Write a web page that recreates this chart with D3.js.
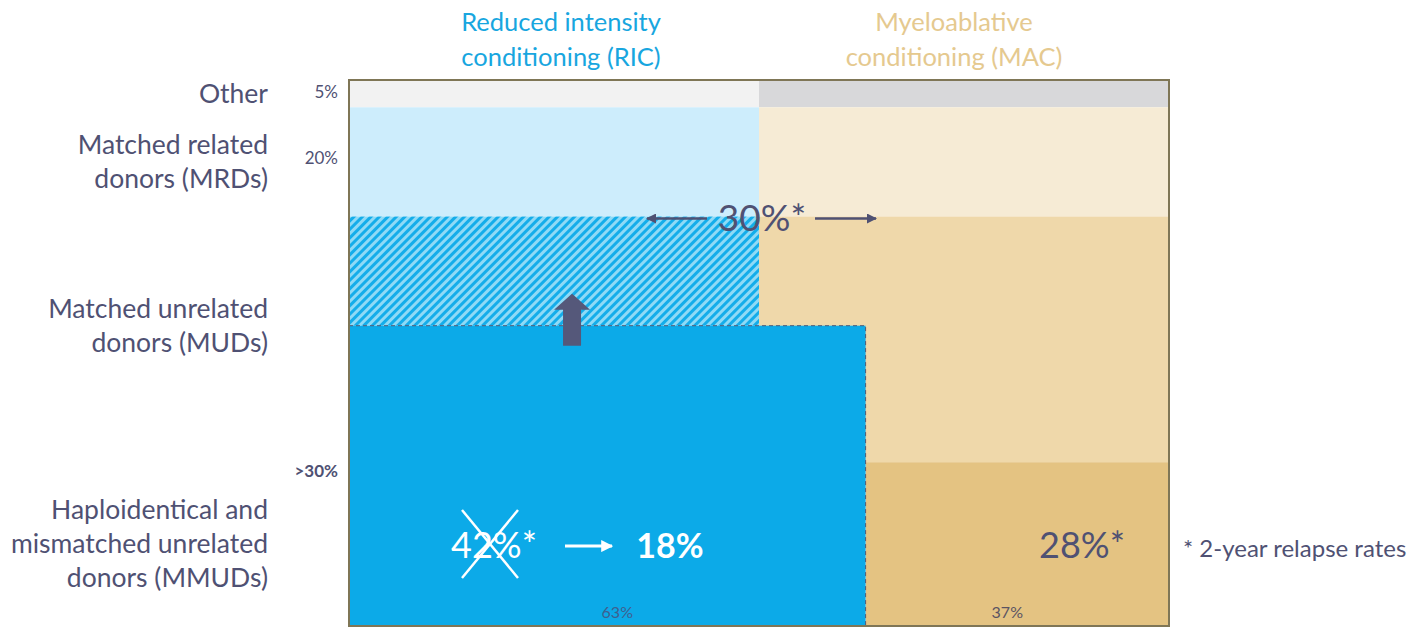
<!DOCTYPE html>
<html>
<head>
<meta charset="utf-8">
<script src="https://cdn.jsdelivr.net/npm/d3@7"></script>
<style>
  body { margin: 0; background: #fff; }
  svg { display: block; font-family: Lato, "Open Sans", sans-serif; }
</style>
</head>
<body>
<svg id="chart" width="1428" height="628"></svg>
<script>
// rows, top to bottom, with share of transplants (%)
const rowKeys = ["Other", "MRD", "MUD", "MMUD"];
const rowLabels = [
  ["Other"],
  ["Matched related", "donors (MRDs)"],
  ["Matched unrelated", "donors (MUDs)"],
  ["Haploidentical and", "mismatched unrelated", "donors (MMUDs)"]
];
const rowShares = [5, 20, 45, 30];
const rowShareLabels = ["5%", "20%", "", ">30%"];

// conditioning split
const headers = [["Reduced intensity", "conditioning (RIC)"], ["Myeloablative", "conditioning (MAC)"]];
const ricShare = 50;         // upper rows
const mmudRicShare = 63;     // MMUD row
const shiftedShare = 20;     // MUD share now going to RIC (hatched)
const bottomLabels = ["63%", "37%"];

// 2-year relapse rates
const relapseMrdMud = "30%*";
const relapseRicOld = "42%*";
const relapseRicNew = "18%";
const relapseMac = "28%*";
const footnote = "* 2-year relapse rates";

const C = {
  text: "#4f5173",
  ric: "#18a6df",
  mac: "#e5c98f",
  otherRic: "#f2f2f2", otherMac: "#d8d8da",
  mrdRic: "#cdedfc", mrdMac: "#f6ebd5",
  hatchBg: "#8fdaf6", hatchFg: "#14adea",
  mudMac: "#efd8aa", mmudMac: "#e4c382",
  blue: "#0caae8", border: "#7f7656"
};

const svg = d3.select("#chart");
const x = d3.scaleLinear().domain([0, 100]).range([349, 1169]);
const y = d3.scaleLinear().domain([0, 100]).range([626, 80]);

// cumulative row bounds (from top, in % of height)
let acc = 100;
const bands = rowShares.map((s, i) => {
  const b = { key: rowKeys[i], top: acc, bottom: acc - s };
  acc -= s;
  return b;
});
const B = Object.fromEntries(bands.map(b => [b.key, b]));
const blueTop = B.MMUD.top + (B.MUD.top - B.MMUD.top - shiftedShare);

const defs = svg.append("defs");
const pat = defs.append("pattern")
  .attr("id", "hatch")
  .attr("patternUnits", "userSpaceOnUse")
  .attr("width", 6).attr("height", 6)
  .attr("patternTransform", "rotate(45)");
pat.append("rect").attr("width", 6).attr("height", 6).attr("fill", C.hatchBg);
pat.append("rect").attr("width", 3).attr("height", 6).attr("fill", C.hatchFg);

const cells = [
  { x0: 0, x1: ricShare, y0: B.Other.bottom, y1: B.Other.top, fill: C.otherRic },
  { x0: ricShare, x1: 100, y0: B.Other.bottom, y1: B.Other.top, fill: C.otherMac },
  { x0: 0, x1: ricShare, y0: B.MRD.bottom, y1: B.MRD.top, fill: C.mrdRic },
  { x0: ricShare, x1: 100, y0: B.MRD.bottom, y1: B.MRD.top, fill: C.mrdMac },
  { x0: 0, x1: ricShare, y0: blueTop, y1: B.MUD.top, fill: "url(#hatch)" },
  { x0: ricShare, x1: 100, y0: B.MUD.bottom, y1: B.MUD.top, fill: C.mudMac },
  { x0: mmudRicShare, x1: 100, y0: B.MMUD.bottom, y1: B.MMUD.top, fill: C.mmudMac }
];

svg.append("g").selectAll("rect").data(cells).join("rect")
  .attr("x", d => x(d.x0))
  .attr("y", d => y(d.y1))
  .attr("width", d => x(d.x1) - x(d.x0))
  .attr("height", d => y(d.y0) - y(d.y1))
  .attr("fill", d => d.fill);

// RIC block for MMUDs, grown upward
svg.append("rect")
  .attr("x", x(0)).attr("y", y(blueTop))
  .attr("width", x(mmudRicShare) - x(0))
  .attr("height", y(0) - y(blueTop))
  .attr("fill", C.blue)
  .attr("stroke", "#4d5a78")
  .attr("stroke-width", 1)
  .attr("stroke-dasharray", "4,3");

// outer frame
svg.append("rect")
  .attr("x", x(0)).attr("y", y(100))
  .attr("width", x(100) - x(0)).attr("height", y(0) - y(100))
  .attr("fill", "none").attr("stroke", C.border).attr("stroke-width", 2);

// headers
const headG = svg.append("g").attr("text-anchor", "middle").attr("font-size", 25.5);
headers.forEach((lines, i) => {
  const cx = i === 0 ? x(ricShare / 2) + 7 : x(ricShare + (100 - ricShare) / 2) - 10;
  lines.forEach((t, j) => {
    headG.append("text").attr("x", cx).attr("y", 31 + j * 35)
      .attr("fill", i === 0 ? C.ric : C.mac).text(t);
  });
});

// row labels
const labelG = svg.append("g").attr("text-anchor", "end").attr("font-size", 26.5).attr("fill", C.text);
bands.forEach((b, i) => {
  const mid = b.key === "MUD" ? y(blueTop) : (y(b.top) + y(b.bottom)) / 2;
  const lines = rowLabels[i];
  const lh = 34;
  lines.forEach((t, j) => {
    labelG.append("text")
      .attr("x", 268)
      .attr("y", mid + (j - (lines.length - 1) / 2) * lh + 9)
      .text(t);
  });
});

// row share labels
const shareG = svg.append("g").attr("text-anchor", "end").attr("font-size", 17).attr("fill", C.text);
bands.forEach((b, i) => {
  if (!rowShareLabels[i]) return;
  const isMin = rowShareLabels[i].startsWith(">");
  const yy = isMin ? y(b.top) + 15 : (y(b.top) + y(b.bottom)) / 2 + 4 - (i === 1 ? 2 : 0);
  shareG.append("text").attr("x", 338).attr("y", yy)
    .attr("font-weight", isMin ? "bold" : "normal")
    .text(rowShareLabels[i]);
});

// bottom column shares
const botG = svg.append("g").attr("text-anchor", "middle").attr("font-size", 16);
botG.append("text").attr("x", x(mmudRicShare / 2) + 10).attr("y", 618).attr("fill", "#3f5f8f").text(bottomLabels[0]);
botG.append("text").attr("x", x(mmudRicShare + (100 - mmudRicShare) / 2) - 10).attr("y", 618).attr("fill", "#5b5462").text(bottomLabels[1]);

// arrow markers
function arrowHead(id, color) {
  defs.append("marker").attr("id", id)
    .attr("viewBox", "0 0 10 10").attr("refX", 9).attr("refY", 5)
    .attr("markerWidth", 4).attr("markerHeight", 4).attr("orient", "auto")
    .append("path").attr("d", "M0,0 L10,5 L0,10 Z").attr("fill", color);
}
arrowHead("ahDark", C.text);
arrowHead("ahWhite", "#fff");

// 30%* across MRD/MUD
const yMid = y(B.MRD.bottom);
svg.append("text").attr("x", x(ricShare) + 3).attr("y", yMid + 14)
  .attr("text-anchor", "middle").attr("font-size", 37).attr("fill", C.text).text(relapseMrdMud);
svg.append("line").attr("x1", x(ricShare) - 52).attr("x2", x(ricShare) - 112)
  .attr("y1", yMid + 2).attr("y2", yMid + 2)
  .attr("stroke", C.text).attr("stroke-width", 2.5).attr("marker-end", "url(#ahDark)");
svg.append("line").attr("x1", x(ricShare) + 56).attr("x2", x(ricShare) + 117)
  .attr("y1", yMid + 2).attr("y2", yMid + 2)
  .attr("stroke", C.text).attr("stroke-width", 2.5).attr("marker-end", "url(#ahDark)");

// thick up arrow (RIC growth)
const ax = x(27.2), ayB = y(blueTop) + 20, ayT = y(blueTop) - 32;
svg.append("path")
  .attr("d", `M${ax - 9},${ayB} L${ax - 9},${ayT + 16} L${ax - 18},${ayT + 16} L${ax},${ayT} L${ax + 18},${ayT + 16} L${ax + 9},${ayT + 16} L${ax + 9},${ayB} Z`)
  .attr("fill", "#55587a");

// relapse rates in the MMUD row
const yR = (y(B.MMUD.top) + y(0)) / 2;
svg.append("text").attr("x", 494).attr("y", yR + 14)
  .attr("text-anchor", "middle").attr("font-size", 36).attr("fill", "#fff").text(relapseRicOld);
svg.append("line").attr("x1", 462).attr("y1", 510).attr("x2", 518).attr("y2", 578)
  .attr("stroke", "#fff").attr("stroke-width", 2.5);
svg.append("line").attr("x1", 518).attr("y1", 510).attr("x2", 462).attr("y2", 578)
  .attr("stroke", "#fff").attr("stroke-width", 2.5);
svg.append("line").attr("x1", 565).attr("x2", 612).attr("y1", yR + 2).attr("y2", yR + 2)
  .attr("stroke", "#fff").attr("stroke-width", 3).attr("marker-end", "url(#ahWhite)");
svg.append("text").attr("x", 670).attr("y", yR + 14)
  .attr("text-anchor", "middle").attr("font-size", 34).attr("font-weight", "bold")
  .attr("fill", "#fff").text(relapseRicNew);
svg.append("text").attr("x", 1125).attr("y", yR + 14)
  .attr("text-anchor", "end").attr("font-size", 36).attr("fill", C.text).text(relapseMac);

svg.append("text").attr("x", 1183).attr("y", yR + 13)
  .attr("font-size", 24).attr("fill", C.text).text(footnote);
</script>
</body>
</html>
